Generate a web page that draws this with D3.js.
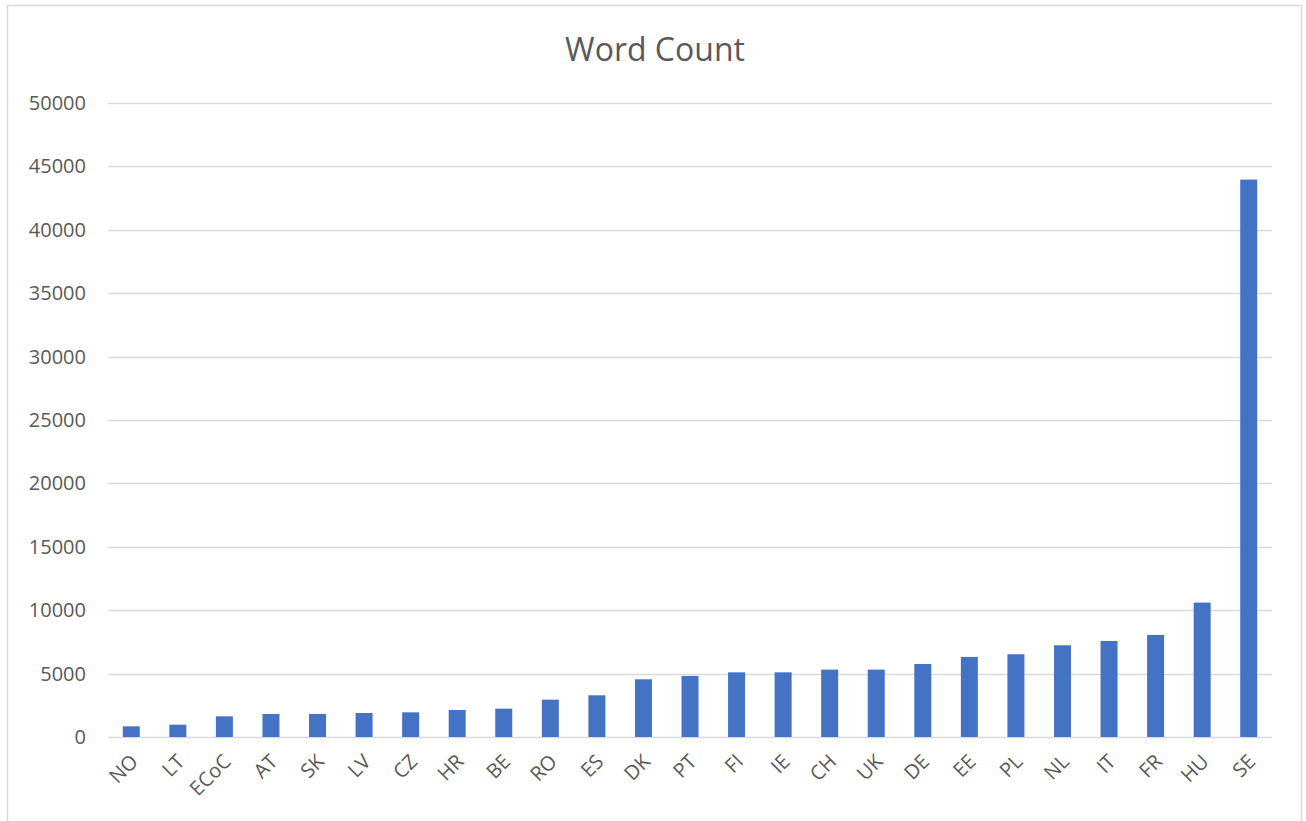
<!DOCTYPE html>
<html>
<head>
<meta charset="utf-8">
<script src="https://cdn.jsdelivr.net/npm/d3@7"></script>
<style>
	body { margin: 0; background: #fff; }
	text { font-family: "Open Sans", "Noto Sans", sans-serif; fill: #595959; }
</style>
</head>
<body>
<div id="chart"></div>
<script>
var countries = ["NO", "LT", "ECoC", "AT", "SK", "LV", "CZ", "HR", "BE", "RO", "ES", "DK", "PT",
	"FI", "IE", "CH", "UK", "DE", "EE", "PL", "NL", "IT", "FR", "HU", "SE"];
var wordCounts = [840, 970, 1630, 1815, 1815, 1890, 1945, 2130, 2235, 2945, 3290, 4550, 4815,
	5100, 5100, 5315, 5315, 5760, 6315, 6525, 7235, 7575, 8050, 10600, 43960];
var yTicks = [0, 5000, 10000, 15000, 20000, 25000, 30000, 35000, 40000, 45000, 50000];
var chartTitle = "Word Count";

(function(){
	var width = 1306, height = 821;
	var margin = { top: 103, right: 34, bottom: 84, left: 108 };
	var innerW = width - margin.left - margin.right;
	var innerH = height - margin.top - margin.bottom;

	var svg = d3.select("#chart")
		.append("svg")
		.attr("width", width)
		.attr("height", height);

	// chart frame
	svg.append("rect")
		.attr("x", 7.5).attr("y", 5.5)
		.attr("width", 1294).attr("height", 830)
		.attr("fill", "none")
		.attr("stroke", "#d9d9d9")
		.attr("stroke-width", 1.5);

	svg.append("text")
		.attr("x", 655).attr("y", 61)
		.attr("text-anchor", "middle")
		.style("font-size", "32px")
		.text(chartTitle);

	var g = svg.append("g")
		.attr("transform", "translate(" + margin.left + "," + margin.top + ")");

	var x = d3.scaleBand()
		.domain(countries)
		.range([0, innerW])
		.paddingInner(0.635)
		.paddingOuter(0.3175);

	var y = d3.scaleLinear()
		.domain([0, 50000])
		.range([innerH, 0]);

	// gridlines
	g.append("g")
		.selectAll("line")
		.data(yTicks)
		.enter().append("line")
		.attr("x1", 0).attr("x2", innerW)
		.attr("y1", function(d){ return Math.round(y(d)) + 0.5; })
		.attr("y2", function(d){ return Math.round(y(d)) + 0.5; })
		.attr("stroke", "#d9d9d9")
		.attr("stroke-width", 1.5);

	var yAxis = g.append("g")
		.call(d3.axisLeft(y).tickValues(yTicks).tickSize(0).tickPadding(22).tickFormat(d3.format("d")));
	yAxis.select(".domain").remove();
	yAxis.selectAll("text")
		.style("font-size", "20px")
		.style("fill", "#595959");

	g.selectAll(".bar")
		.data(countries)
		.enter().append("rect")
		.attr("class", "bar")
		.attr("x", function(d){ return x(d); })
		.attr("width", x.bandwidth())
		.attr("y", function(d, i){ return y(wordCounts[i]); })
		.attr("height", function(d, i){ return innerH - y(wordCounts[i]); })
		.attr("fill", "#4472c4");

	var xAxis = g.append("g")
		.attr("transform", "translate(0," + innerH + ")")
		.call(d3.axisBottom(x).tickSize(0).tickPadding(0));
	xAxis.select(".domain").remove();
	xAxis.selectAll("text")
		.style("font-size", "20px")
		.style("fill", "#595959")
		.attr("text-anchor", "end")
		.attr("dy", null)
		.attr("y", null)
		.attr("transform", "translate(-4,14) rotate(-45)")
		.attr("dominant-baseline", "hanging");
})();
</script>
</body>
</html>
